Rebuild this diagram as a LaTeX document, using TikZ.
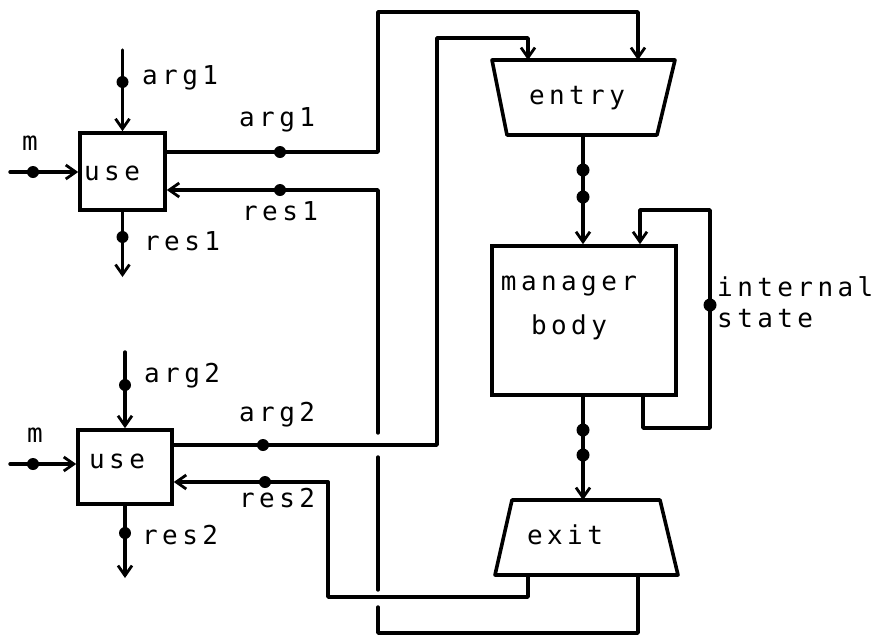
\documentclass[tikz,border=0pt]{standalone}
\usepackage{fontspec}
\newfontfamily\lblfont[LetterSpace=17]{DejaVu Sans Mono}
\usetikzlibrary{arrows.meta}
\begin{document}
\begin{tikzpicture}[x=1pt,y=-1pt,
  wire/.style={line width=3.4pt, line cap=round, line join=round},
  arr/.style={wire, -{Straight Barb[length=10pt,width=14pt,line width=2.8pt]}},
  blk/.style={draw, line width=3.6pt, rectangle, inner sep=0pt},
  trap/.style={draw, line width=3.6pt, line join=round},
  txt/.style={font=\lblfont\fontsize{26}{44}\selectfont, inner sep=0pt},
  dot/.style={circle, fill, inner sep=0pt, minimum size=12pt},
  bigdot/.style={dot, minimum size=13pt}
]
\useasboundingbox (0,0) rectangle (879,638);

% blocks
\node[blk, minimum width=85pt, minimum height=77pt] (use1) at (122.5,171.5) {};
\node[txt, anchor=west] (use1t) at (84,173) {use};
\node[blk, minimum width=94pt, minimum height=74pt] (use2) at (125,467) {};
\node[txt, anchor=west] (use2t) at (89,461) {use};
\node[blk, minimum width=184pt, minimum height=149pt] (mgr) at (584,320.5) {};
\node[txt, align=center] (mgrt) at (569,308) {manager\\body};

% entry and exit trapezoids
\coordinate (enTL) at (492,60); \coordinate (enTR) at (675,60);
\coordinate (enBR) at (657,135); \coordinate (enBL) at (507,135);
\draw[trap] (enTL) -- (enTR) -- (enBR) -- (enBL) -- cycle;
\node[txt] (entry) at (577,98) {entry};
\coordinate (exTL) at (512,500); \coordinate (exTR) at (660,500);
\coordinate (exBR) at (678,575); \coordinate (exBL) at (495,575);
\draw[trap] (exTL) -- (exTR) -- (exBR) -- (exBL) -- cycle;
\node[txt] (exit) at (565,535) {exit};

\coordinate (enIn1) at (528,60);
\coordinate (enIn2) at (638,60);
\coordinate (enOut) at (583,135);
\coordinate (exIn) at (583,500);
\coordinate (exOut1) at (528,575);
\coordinate (exOut2) at (638,575);

% upper use block
\coordinate (a1src) at (122.5,50);
\draw[arr] (a1src) -- (use1.north);
\node[dot] (da1) at (122.5,82) {};
\node[txt, anchor=west] at (142,78) {arg1};
\coordinate (m1src) at (10,172);
\draw[arr] (m1src) -- (use1.west |- m1src);
\node[dot] (dm1) at (33,172) {};
\node[txt] at (30,143) {m};
\coordinate (r1dst) at (122.5,277);
\draw[arr] (use1.south) -- (r1dst);
\node[dot] (dr1) at (122.5,237) {};
\node[txt, anchor=west] at (144,241) {res1};

% arg1 to entry
\draw[arr] (use1.east |- 0,152) -- (378,152) -- (378,12) -- (638,12) -- (enIn2);
\node[dot] (da1o) at (280,152) {};
\node[txt, anchor=west] at (239,120) {arg1};

% res1 from exit
\draw[wire] (exOut2) -- (638,633) -- (378,633) -- (378,607);
\draw[wire] (378,590) -- (378,457);
\draw[arr] (378,433) -- (378,190) -- (use1.east |- 0,190);
\node[dot] (dr1o) at (280,190) {};
\node[txt, anchor=west] at (242,211) {res1};

% lower use block
\coordinate (a2src) at (125,352);
\draw[arr] (a2src) -- (use2.north);
\node[dot] (da2) at (125,385) {};
\node[txt, anchor=west] at (144,376) {arg2};
\coordinate (m2src) at (10,464);
\draw[arr] (m2src) -- (use2.west |- m2src);
\node[dot] (dm2) at (33,464) {};
\node[txt] at (35,435) {m};
\coordinate (r2dst) at (125,578);
\draw[arr] (use2.south) -- (r2dst);
\node[dot] (dr2) at (125,533) {};
\node[txt, anchor=west] at (142,535) {res2};

% arg2 to entry
\draw[arr] (use2.east |- 0,445) -- (437,445) -- (437,38) -- (528,38) -- (enIn1);
\node[dot] (da2o) at (263,445) {};
\node[txt, anchor=west] at (239,415) {arg2};

% res2 from exit
\draw[arr] (exOut1) -- (528,597) -- (328,597) -- (328,482) -- (use2.east |- 0,482);
\node[dot] (dr2o) at (265,482) {};
\node[txt, anchor=west] at (239,498) {res2};

% entry -> manager -> exit
\draw[arr] (enOut) -- (mgr.north -| enOut);
\node[bigdot] (de1) at (583,170) {};
\node[bigdot] (de2) at (583,197) {};
\draw[arr] (mgr.south -| exIn) -- (exIn);
\node[bigdot] (dx1) at (583,430) {};
\node[bigdot] (dx2) at (583,455) {};

% internal state loop
\draw[arr] (mgr.south -| 643,0) -- (643,428) -- (710,428) -- (710,210) -- (640,210) -- (mgr.north -| 640,0);
\node[bigdot] (dis) at (710,305) {};
\node[txt, anchor=west, align=left, font=\lblfont\fontsize{26}{31}\selectfont] at (717,302) {internal\\state};
\end{tikzpicture}
\end{document}
